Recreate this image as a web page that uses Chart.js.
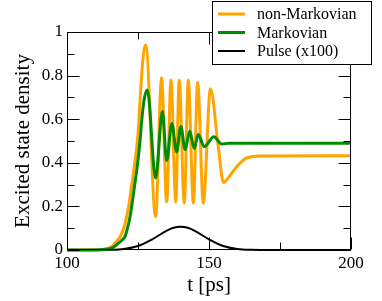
<!DOCTYPE html>
<html>
<head>
<meta charset="utf-8">
<script src="https://cdn.jsdelivr.net/npm/chart.js@4.4.1/dist/chart.umd.min.js"></script>
<style>
  html, body { margin: 0; padding: 0; background: #fff; }
  canvas { display: block; }
</style>
</head>
<body>
<canvas id="c" width="382" height="301"></canvas>
<script>
// ---- data ----
const seriesLabels = ['non-Markovian', 'Markovian', 'Pulse (x100)'];
const seriesColors = ['#ffa500', '#008c00', '#000000'];

const tNonMarkov = [100,110,114,116,117.5,118.7,120,121,122,122.8,123.7,124.5,125.1,125.7,126.5,127.1,127.7,
  131.2,133.3,135.1,136.6,138.3,139.5,141.3,142.7,144.5,146.0,148.0,150.5,153.3,155.1,157,159,161,163,165,168,200];
const yNonMarkov = [0,0.001,0.006,0.018,0.04,0.061,0.10,0.153,0.225,0.30,0.385,0.465,0.55,0.68,0.84,0.915,0.94,
  0.153,0.79,0.22,0.78,0.22,0.78,0.215,0.78,0.215,0.77,0.215,0.74,0.47,0.31,0.335,0.37,0.40,0.42,0.428,0.431,0.432];

const tMarkov = [100,110,114,116,118,119.3,120.4,121.3,122.2,123,123.9,124.8,125.7,126.5,127.3,128.3,
  131.2,133.6,135.1,136.9,138.6,140.1,141.6,143.2,144.8,146.2,148.3,151.7,154.5,157,200];
const yMarkov = [0,0.0005,0.003,0.01,0.03,0.045,0.061,0.10,0.153,0.22,0.306,0.39,0.50,0.62,0.70,0.734,
  0.33,0.636,0.41,0.58,0.45,0.566,0.46,0.545,0.466,0.53,0.474,0.52,0.486,0.49,0.49];

const tPulse = [100,110,115,120,125,130,135,137.5,140,142.5,145,150,155,160,165,170,200];
const yPulse = [0,0.0001,0.0008,0.0047,0.0184,0.049,0.088,0.102,0.107,0.102,0.088,0.049,0.0184,0.0047,0.0008,0.0001,0];

const xMajorTicks = [100, 150, 200];
const xMinorTicks = [125, 175];
const yMajorTicks = [0, 0.2, 0.4, 0.6, 0.8, 1];
const yMinorTicks = [0.1, 0.3, 0.5, 0.7, 0.9];
const yTickLabels = ['0', '0.2', '0.4', '0.6', '0.8', '1'];
const xTickLabels = ['100', '150', '200'];

const SERIF = "'Liberation Serif', 'Times New Roman', serif";

function pts(ts, ys) { return ts.map((t, i) => ({ x: t, y: ys[i] })); }

const frameTicks = {
  id: 'frameTicks',
  afterDatasetsDraw(chart) {
    const { ctx, chartArea: a, scales: { x, y } } = chart;
    ctx.save();
    ctx.strokeStyle = '#000';
    ctx.lineWidth = 1;
    const L = Math.round(a.left) + 0.5, R = Math.round(a.right) - 0.5;
    const T = Math.round(a.top) + 0.5, B = Math.round(a.bottom) - 0.5;
    ctx.strokeRect(L, T, R - L, B - T);
    ctx.beginPath();
    const major = 12, minor = 7;
    const xt = (v, len) => {
      const px = Math.round(x.getPixelForValue(v)) + 0.5;
      ctx.moveTo(px, B); ctx.lineTo(px, B - len);
      ctx.moveTo(px, T); ctx.lineTo(px, T + len);
    };
    const yt = (v, len) => {
      const py = Math.round(y.getPixelForValue(v)) + 0.5;
      ctx.moveTo(L, py); ctx.lineTo(L + len, py);
      ctx.moveTo(R, py); ctx.lineTo(R - len, py);
    };
    xMajorTicks.forEach(v => xt(v, major));
    xMinorTicks.forEach(v => xt(v, minor));
    yMajorTicks.forEach(v => yt(v, major));
    yMinorTicks.forEach(v => yt(v, minor));
    ctx.stroke();
    ctx.restore();
  }
};

const boxLegend = {
  id: 'boxLegend',
  afterDraw(chart) {
    const { ctx } = chart;
    ctx.save();
    const bx = 212.5, by = 1.5, bw = 159, bh = 63;
    ctx.fillStyle = '#fff';
    ctx.fillRect(bx, by, bw, bh);
    ctx.strokeStyle = '#000';
    ctx.lineWidth = 1;
    ctx.strokeRect(bx, by, bw, bh);
    ctx.font = '16px ' + SERIF;
    ctx.textBaseline = 'middle';
    ctx.textAlign = 'left';
    chart.data.datasets.forEach((ds, i) => {
      const yy = 14 + i * 18.5;
      ctx.strokeStyle = ds.borderColor;
      ctx.lineWidth = ds.borderWidth;
      ctx.beginPath();
      ctx.moveTo(218, yy); ctx.lineTo(245, yy);
      ctx.stroke();
      ctx.fillStyle = '#000';
      ctx.fillText(ds.label, 257, yy + 1);
    });
    ctx.restore();
  }
};

new Chart(document.getElementById('c'), {
  type: 'line',
  data: {
    datasets: [
      { label: seriesLabels[0], data: pts(tNonMarkov, yNonMarkov), borderColor: seriesColors[0], borderWidth: 3, order: 1 },
      { label: seriesLabels[1], data: pts(tMarkov, yMarkov), borderColor: seriesColors[1], borderWidth: 3, order: 0 },
      { label: seriesLabels[2], data: pts(tPulse, yPulse), borderColor: seriesColors[2], borderWidth: 2, order: 2 }
    ].map(d => Object.assign(d, { pointRadius: 0, fill: false, cubicInterpolationMode: 'monotone', clip: 4 }))
  },
  options: {
    responsive: false,
    animation: false,
    events: [],
    layout: { padding: { top: 32, right: 31, left: 0, bottom: 0 } },
    plugins: { legend: { display: false }, tooltip: { enabled: false } },
    scales: {
      x: {
        type: 'linear', min: 100, max: 200,
        afterBuildTicks(s) { s.ticks = xMajorTicks.map(v => ({ value: v })); },
        ticks: {
          font: { family: SERIF, size: 17 }, color: '#000', padding: 3,
          maxRotation: 0, autoSkip: false,
          callback: (v, i) => xTickLabels[i]
        },
        grid: { display: false, drawTicks: false },
        border: { display: false },
        title: { display: true, text: 't [ps]', font: { family: SERIF, size: 21 }, color: '#000', padding: { top: 0, bottom: 3 } },
        afterFit(s) { s.height = 51; s.paddingLeft = 0; s.paddingRight = 0; }
      },
      y: {
        type: 'linear', min: 0, max: 1,
        afterBuildTicks(s) { s.ticks = yMajorTicks.map(v => ({ value: v })); },
        ticks: {
          font: { family: SERIF, size: 17 }, color: '#000', padding: 4,
          autoSkip: false,
          callback: (v, i) => yTickLabels[i]
        },
        grid: { display: false, drawTicks: false },
        border: { display: false },
        title: { display: true, text: 'Excited state density', font: { family: SERIF, size: 21 }, color: '#000', padding: { top: 11, bottom: 0 } },
        afterFit(s) { s.width = 67; s.paddingTop = 0; s.paddingBottom = 0; }
      }
    }
  },
  plugins: [frameTicks, boxLegend]
});
</script>
</body>
</html>
